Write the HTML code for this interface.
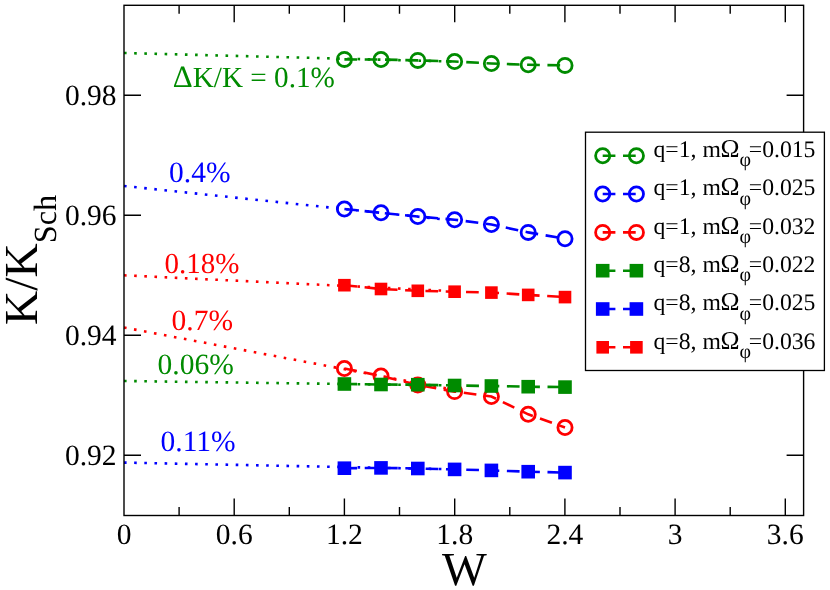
<!DOCTYPE html>
<html><head><meta charset="utf-8"><title>K/K_Sch vs W</title>
<style>html,body{margin:0;padding:0;background:#fff;}body{width:830px;height:590px;overflow:hidden;}svg{display:block;will-change:transform;}text{font-family:"Liberation Serif",serif;text-rendering:geometricPrecision;}</style></head><body>
<svg width="830" height="590" viewBox="0 0 830 590">
<rect x="0" y="0" width="830" height="590" fill="#fff"/>
<path d="M124,53.0 L454.6,61.6" fill="none" stroke="#008b00" stroke-width="2.6" stroke-dasharray="2.6 7.557"/>
<path d="M344.4,59.4 L381.0,59.5 L417.8,60.4 L454.6,61.5 L491.4,63.5 L528.2,64.8 L565.0,65.4" fill="none" stroke="#008b00" stroke-width="2.6" stroke-dasharray="12.7 7.614"/>
<circle cx="344.4" cy="59.4" r="7.1" fill="none" stroke="#008b00" stroke-width="2.8"/>
<circle cx="381.0" cy="59.5" r="7.1" fill="none" stroke="#008b00" stroke-width="2.8"/>
<circle cx="417.8" cy="60.4" r="7.1" fill="none" stroke="#008b00" stroke-width="2.8"/>
<circle cx="454.6" cy="61.5" r="7.1" fill="none" stroke="#008b00" stroke-width="2.8"/>
<circle cx="491.4" cy="63.5" r="7.1" fill="none" stroke="#008b00" stroke-width="2.8"/>
<circle cx="528.2" cy="64.8" r="7.1" fill="none" stroke="#008b00" stroke-width="2.8"/>
<circle cx="565.0" cy="65.4" r="7.1" fill="none" stroke="#008b00" stroke-width="2.8"/>
<path d="M124,186.0 L454.6,220.5" fill="none" stroke="#0000ff" stroke-width="2.6" stroke-dasharray="2.6 7.557"/>
<path d="M344.4,209.0 L381.0,212.8 L417.8,216.5 L454.6,219.7 L491.4,224.5 L528.2,232.4 L565.0,238.7" fill="none" stroke="#0000ff" stroke-width="2.6" stroke-dasharray="12.7 7.614"/>
<circle cx="344.4" cy="209.0" r="7.1" fill="none" stroke="#0000ff" stroke-width="2.8"/>
<circle cx="381.0" cy="212.8" r="7.1" fill="none" stroke="#0000ff" stroke-width="2.8"/>
<circle cx="417.8" cy="216.5" r="7.1" fill="none" stroke="#0000ff" stroke-width="2.8"/>
<circle cx="454.6" cy="219.7" r="7.1" fill="none" stroke="#0000ff" stroke-width="2.8"/>
<circle cx="491.4" cy="224.5" r="7.1" fill="none" stroke="#0000ff" stroke-width="2.8"/>
<circle cx="528.2" cy="232.4" r="7.1" fill="none" stroke="#0000ff" stroke-width="2.8"/>
<circle cx="565.0" cy="238.7" r="7.1" fill="none" stroke="#0000ff" stroke-width="2.8"/>
<path d="M124,327.5 L454.6,390.0" fill="none" stroke="#ff0000" stroke-width="2.6" stroke-dasharray="2.6 7.557"/>
<path d="M344.4,368.5 L381.0,376.0 L417.8,385.0 L454.6,391.6 L491.4,396.5 L528.2,414.3 L565.0,427.5" fill="none" stroke="#ff0000" stroke-width="2.6" stroke-dasharray="12.7 7.614"/>
<circle cx="344.4" cy="368.5" r="7.1" fill="none" stroke="#ff0000" stroke-width="2.8"/>
<circle cx="381.0" cy="376.0" r="7.1" fill="none" stroke="#ff0000" stroke-width="2.8"/>
<circle cx="417.8" cy="385.0" r="7.1" fill="none" stroke="#ff0000" stroke-width="2.8"/>
<circle cx="454.6" cy="391.6" r="7.1" fill="none" stroke="#ff0000" stroke-width="2.8"/>
<circle cx="491.4" cy="396.5" r="7.1" fill="none" stroke="#ff0000" stroke-width="2.8"/>
<circle cx="528.2" cy="414.3" r="7.1" fill="none" stroke="#ff0000" stroke-width="2.8"/>
<circle cx="565.0" cy="427.5" r="7.1" fill="none" stroke="#ff0000" stroke-width="2.8"/>
<path d="M124,381.0 L454.6,385.5" fill="none" stroke="#008b00" stroke-width="2.6" stroke-dasharray="2.6 7.557"/>
<path d="M344.4,384.0 L381.0,384.5 L417.8,384.7 L454.6,385.5 L491.4,386.0 L528.2,386.7 L565.0,387.1" fill="none" stroke="#008b00" stroke-width="2.6" stroke-dasharray="12.7 7.614"/>
<rect x="337.6" y="377.2" width="13.6" height="13.6" fill="#008b00"/>
<rect x="374.2" y="377.7" width="13.6" height="13.6" fill="#008b00"/>
<rect x="411.0" y="377.9" width="13.6" height="13.6" fill="#008b00"/>
<rect x="447.8" y="378.7" width="13.6" height="13.6" fill="#008b00"/>
<rect x="484.6" y="379.2" width="13.6" height="13.6" fill="#008b00"/>
<rect x="521.4" y="379.9" width="13.6" height="13.6" fill="#008b00"/>
<rect x="558.2" y="380.3" width="13.6" height="13.6" fill="#008b00"/>
<path d="M124,462.6 L454.6,469.3" fill="none" stroke="#0000ff" stroke-width="2.6" stroke-dasharray="2.6 7.557"/>
<path d="M344.4,468.2 L381.0,467.9 L417.8,468.5 L454.6,469.4 L491.4,470.4 L528.2,471.7 L565.0,472.6" fill="none" stroke="#0000ff" stroke-width="2.6" stroke-dasharray="12.7 7.614"/>
<rect x="337.6" y="461.4" width="13.6" height="13.6" fill="#0000ff"/>
<rect x="374.2" y="461.1" width="13.6" height="13.6" fill="#0000ff"/>
<rect x="411.0" y="461.7" width="13.6" height="13.6" fill="#0000ff"/>
<rect x="447.8" y="462.6" width="13.6" height="13.6" fill="#0000ff"/>
<rect x="484.6" y="463.6" width="13.6" height="13.6" fill="#0000ff"/>
<rect x="521.4" y="464.9" width="13.6" height="13.6" fill="#0000ff"/>
<rect x="558.2" y="465.8" width="13.6" height="13.6" fill="#0000ff"/>
<path d="M124,275.3 L454.6,291.2" fill="none" stroke="#ff0000" stroke-width="2.6" stroke-dasharray="2.6 7.557"/>
<path d="M344.4,285.2 L381.0,289.0 L417.8,290.8 L454.6,291.7 L491.4,292.6 L528.2,294.9 L565.0,297.1" fill="none" stroke="#ff0000" stroke-width="2.6" stroke-dasharray="12.7 7.614"/>
<rect x="338.1" y="278.9" width="12.6" height="12.6" fill="#ff0000"/>
<rect x="374.7" y="282.7" width="12.6" height="12.6" fill="#ff0000"/>
<rect x="411.5" y="284.5" width="12.6" height="12.6" fill="#ff0000"/>
<rect x="448.3" y="285.4" width="12.6" height="12.6" fill="#ff0000"/>
<rect x="485.1" y="286.3" width="12.6" height="12.6" fill="#ff0000"/>
<rect x="521.9" y="288.6" width="12.6" height="12.6" fill="#ff0000"/>
<rect x="558.7" y="290.8" width="12.6" height="12.6" fill="#ff0000"/>
<g stroke="#000" stroke-width="1.4" fill="none">
<rect x="124.0" y="5.3" width="679.6" height="510.2"/>
<path d="M179.1,515.5 v-8.5 M179.1,5.3 v8.5"/>
<path d="M234.2,515.5 v-17 M234.2,5.3 v17"/>
<path d="M289.3,515.5 v-8.5 M289.3,5.3 v8.5"/>
<path d="M344.4,515.5 v-17 M344.4,5.3 v17"/>
<path d="M399.5,515.5 v-8.5 M399.5,5.3 v8.5"/>
<path d="M454.7,515.5 v-17 M454.7,5.3 v17"/>
<path d="M509.8,515.5 v-8.5 M509.8,5.3 v8.5"/>
<path d="M564.9,515.5 v-17 M564.9,5.3 v17"/>
<path d="M620.0,515.5 v-8.5 M620.0,5.3 v8.5"/>
<path d="M675.1,515.5 v-17 M675.1,5.3 v17"/>
<path d="M730.2,515.5 v-8.5 M730.2,5.3 v8.5"/>
<path d="M785.3,515.5 v-17 M785.3,5.3 v17"/>
<path d="M124.0,455.3 h17 M803.6,455.3 h-17"/>
<path d="M124.0,335.3 h17 M803.6,335.3 h-17"/>
<path d="M124.0,215.3 h17 M803.6,215.3 h-17"/>
<path d="M124.0,95.3 h17 M803.6,95.3 h-17"/>
</g>
<text x="124.0" y="543.8" font-size="29.5" text-anchor="middle">0</text>
<text x="234.2" y="543.8" font-size="29.5" text-anchor="middle">0.6</text>
<text x="344.4" y="543.8" font-size="29.5" text-anchor="middle">1.2</text>
<text x="454.7" y="543.8" font-size="29.5" text-anchor="middle">1.8</text>
<text x="564.9" y="543.8" font-size="29.5" text-anchor="middle">2.4</text>
<text x="675.1" y="543.8" font-size="29.5" text-anchor="middle">3</text>
<text x="785.3" y="543.8" font-size="29.5" text-anchor="middle">3.6</text>
<text x="116.5" y="465.3" font-size="29.5" text-anchor="end">0.92</text>
<text x="116.5" y="345.3" font-size="29.5" text-anchor="end">0.94</text>
<text x="116.5" y="225.3" font-size="29.5" text-anchor="end">0.96</text>
<text x="116.5" y="105.3" font-size="29.5" text-anchor="end">0.98</text>
<text x="464.3" y="584.6" font-size="47.5" text-anchor="middle">W</text>
<text transform="translate(36.7,324.9) rotate(-90)" font-size="47.4">K/K<tspan font-size="32.3" dy="19.4">Sch</tspan></text>
<text x="172.8" y="86.9" font-size="29.2" fill="#008b00"><tspan font-size="31">Δ</tspan>K/K = 0.1%</text>
<text x="169" y="181.7" font-size="29.5" fill="#0000ff">0.4%</text>
<text x="164.5" y="272.8" font-size="29" fill="#ff0000">0.18%</text>
<text x="171.5" y="329.5" font-size="29.5" fill="#ff0000">0.7%</text>
<text x="157.6" y="373.7" font-size="29.5" fill="#008b00">0.06%</text>
<text x="160.5" y="451.4" font-size="29.5" fill="#0000ff">0.11%</text>
<rect x="585.5" y="132.2" width="238.89999999999998" height="238.3" fill="#fff" stroke="#000" stroke-width="1.3"/>
<path d="M602.7,155.7 L636.4,155.7" fill="none" stroke="#008b00" stroke-width="2.6" stroke-dasharray="12.7 7.614"/>
<circle cx="602.7" cy="155.7" r="7.1" fill="none" stroke="#008b00" stroke-width="2.8"/>
<circle cx="636.4" cy="155.7" r="7.1" fill="none" stroke="#008b00" stroke-width="2.8"/>
<text y="157.0" font-size="23.7"><tspan x="653.5">q=1, m</tspan><tspan x="720.6" font-size="25.6">Ω</tspan><tspan x="739.4" y="166.2" font-size="20">φ</tspan><tspan x="748.8" y="157.0">=0.015</tspan></text>
<path d="M602.7,194.0 L636.4,194.0" fill="none" stroke="#0000ff" stroke-width="2.6" stroke-dasharray="12.7 7.614"/>
<circle cx="602.7" cy="194.0" r="7.1" fill="none" stroke="#0000ff" stroke-width="2.8"/>
<circle cx="636.4" cy="194.0" r="7.1" fill="none" stroke="#0000ff" stroke-width="2.8"/>
<text y="195.3" font-size="23.7"><tspan x="653.5">q=1, m</tspan><tspan x="720.6" font-size="25.6">Ω</tspan><tspan x="739.4" y="204.5" font-size="20">φ</tspan><tspan x="748.8" y="195.3">=0.025</tspan></text>
<path d="M602.7,232.4 L636.4,232.4" fill="none" stroke="#ff0000" stroke-width="2.6" stroke-dasharray="12.7 7.614"/>
<circle cx="602.7" cy="232.4" r="7.1" fill="none" stroke="#ff0000" stroke-width="2.8"/>
<circle cx="636.4" cy="232.4" r="7.1" fill="none" stroke="#ff0000" stroke-width="2.8"/>
<text y="233.7" font-size="23.7"><tspan x="653.5">q=1, m</tspan><tspan x="720.6" font-size="25.6">Ω</tspan><tspan x="739.4" y="242.9" font-size="20">φ</tspan><tspan x="748.8" y="233.7">=0.032</tspan></text>
<path d="M602.7,270.7 L636.4,270.7" fill="none" stroke="#008b00" stroke-width="2.6" stroke-dasharray="12.7 7.614"/>
<rect x="595.9" y="263.9" width="13.6" height="13.6" fill="#008b00"/>
<rect x="629.6" y="263.9" width="13.6" height="13.6" fill="#008b00"/>
<text y="272.0" font-size="23.7"><tspan x="653.5">q=8, m</tspan><tspan x="720.6" font-size="25.6">Ω</tspan><tspan x="739.4" y="281.2" font-size="20">φ</tspan><tspan x="748.8" y="272.0">=0.022</tspan></text>
<path d="M602.7,309.0 L636.4,309.0" fill="none" stroke="#0000ff" stroke-width="2.6" stroke-dasharray="12.7 7.614"/>
<rect x="595.9" y="302.2" width="13.6" height="13.6" fill="#0000ff"/>
<rect x="629.6" y="302.2" width="13.6" height="13.6" fill="#0000ff"/>
<text y="310.3" font-size="23.7"><tspan x="653.5">q=8, m</tspan><tspan x="720.6" font-size="25.6">Ω</tspan><tspan x="739.4" y="319.5" font-size="20">φ</tspan><tspan x="748.8" y="310.3">=0.025</tspan></text>
<path d="M602.7,347.3 L636.4,347.3" fill="none" stroke="#ff0000" stroke-width="2.6" stroke-dasharray="12.7 7.614"/>
<rect x="596.4" y="341.0" width="12.6" height="12.6" fill="#ff0000"/>
<rect x="630.1" y="341.0" width="12.6" height="12.6" fill="#ff0000"/>
<text y="348.6" font-size="23.7"><tspan x="653.5">q=8, m</tspan><tspan x="720.6" font-size="25.6">Ω</tspan><tspan x="739.4" y="357.8" font-size="20">φ</tspan><tspan x="748.8" y="348.6">=0.036</tspan></text>
</svg></body></html>
